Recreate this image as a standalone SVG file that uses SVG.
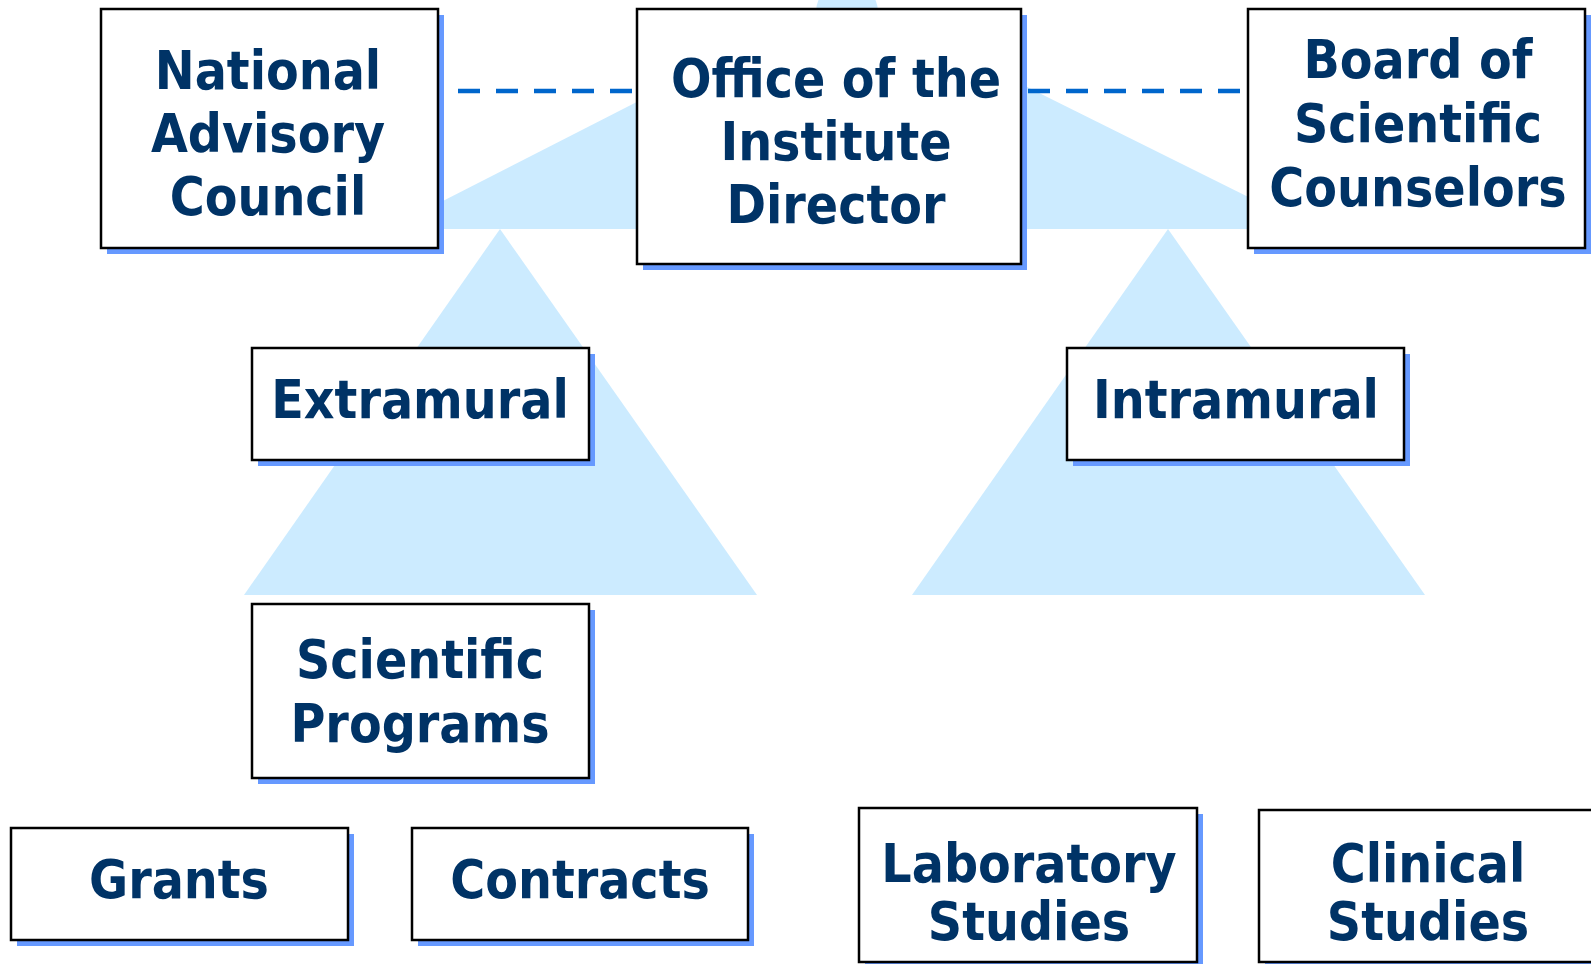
<svg xmlns="http://www.w3.org/2000/svg" width="1591" height="964" viewBox="0 0 1591 964">
<style>
.bg{fill:#CCEBFF}
.sh{fill:#6699FF}
.bx{fill:#FFFFFF;stroke:#000000;stroke-width:2.5}
.t{font-family:'DejaVu Sans Condensed','DejaVu Sans',sans-serif;font-stretch:condensed;font-weight:bold;font-size:53px;fill:#003366;text-anchor:middle}
.dash{stroke:#0066CC;stroke-width:4.5;stroke-dasharray:22 16;fill:none}
</style>
<g id="scale">
<circle class="bg" cx="847" cy="12" r="31"/>
<polygon class="bg" points="844,-4 388,229 1313,229"/>
<polygon class="bg" points="500,229 244,595 757,595"/>
<polygon class="bg" points="1168,229 912,595 1425,595"/>
</g>
<g id="connectors">
<line class="dash" x1="458" y1="91" x2="637" y2="91"/>
<line class="dash" x1="1028" y1="91" x2="1248" y2="91"/>
</g>
<g id="national">
<rect class="sh" x="107" y="15" width="337" height="239"/>
<rect class="bx" x="101" y="9" width="337" height="239"/>
<text class="t"><tspan x="268" y="89">National</tspan><tspan x="268" y="152">Advisory</tspan><tspan x="268" y="215">Council</tspan></text>
</g>
<g id="office">
<rect class="sh" x="643" y="15" width="384" height="255"/>
<rect class="bx" x="637" y="9" width="384" height="255"/>
<text class="t"><tspan x="836" y="97">Office of the</tspan><tspan x="836" y="160">Institute</tspan><tspan x="836" y="223">Director</tspan></text>
</g>
<g id="board">
<rect class="sh" x="1254" y="15" width="337" height="239"/>
<rect class="bx" x="1248" y="9" width="337" height="239"/>
<text class="t"><tspan x="1418" y="78">Board of</tspan><tspan x="1418" y="142">Scientific</tspan><tspan x="1418" y="206">Counselors</tspan></text>
</g>
<g id="extramural">
<rect class="sh" x="258" y="354" width="337" height="112"/>
<rect class="bx" x="252" y="348" width="337" height="112"/>
<text class="t" x="420" y="418">Extramural</text>
</g>
<g id="intramural">
<rect class="sh" x="1073" y="354" width="337" height="112"/>
<rect class="bx" x="1067" y="348" width="337" height="112"/>
<text class="t" x="1236" y="418">Intramural</text>
</g>
<g id="scientific-programs">
<rect class="sh" x="258" y="610" width="337" height="174"/>
<rect class="bx" x="252" y="604" width="337" height="174"/>
<text class="t"><tspan x="420" y="678">Scientific</tspan><tspan x="420" y="742">Programs</tspan></text>
</g>
<g id="grants">
<rect class="sh" x="17" y="834" width="337" height="112"/>
<rect class="bx" x="11" y="828" width="337" height="112"/>
<text class="t" x="179" y="898">Grants</text>
</g>
<g id="contracts">
<rect class="sh" x="418" y="834" width="336" height="112"/>
<rect class="bx" x="412" y="828" width="336" height="112"/>
<text class="t" x="580" y="898">Contracts</text>
</g>
<g id="laboratory">
<rect class="sh" x="865" y="814" width="338" height="154"/>
<rect class="bx" x="859" y="808" width="338" height="154"/>
<text class="t"><tspan x="1029" y="882">Laboratory</tspan><tspan x="1029" y="940">Studies</tspan></text>
</g>
<g id="clinical">
<rect class="sh" x="1265" y="816" width="340" height="152"/>
<rect class="bx" x="1259" y="810" width="340" height="152"/>
<text class="t"><tspan x="1428" y="882">Clinical</tspan><tspan x="1428" y="940">Studies</tspan></text>
</g>
</svg>
